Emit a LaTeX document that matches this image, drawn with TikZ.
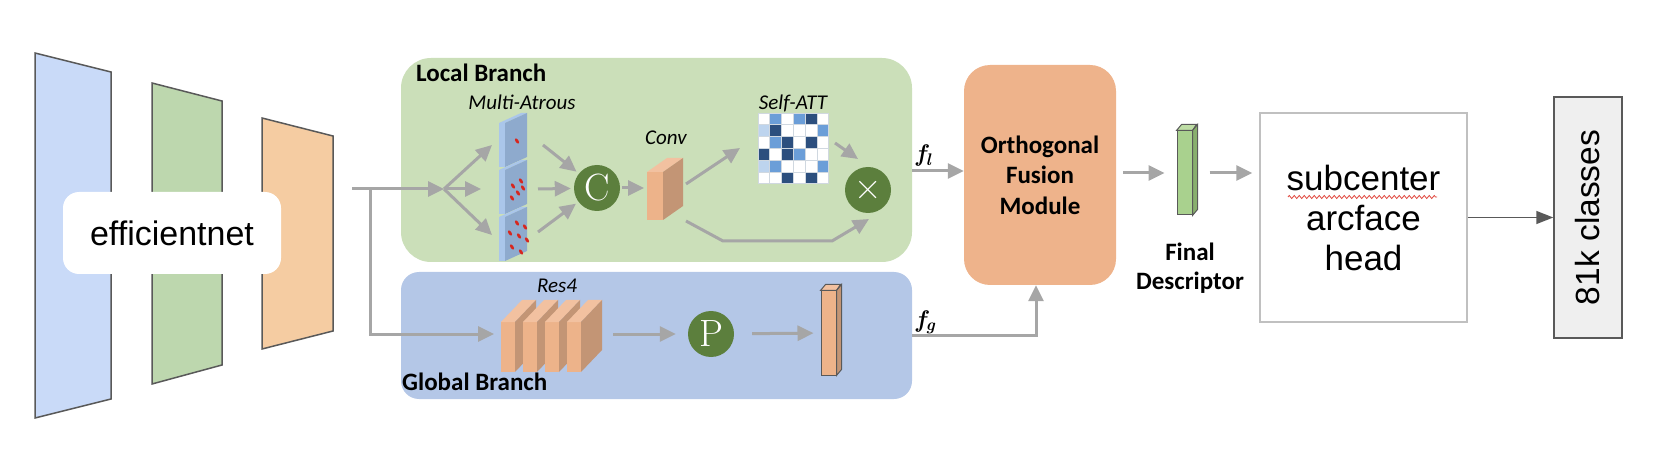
\documentclass[tikz,border=0pt]{standalone}
\usepackage{fontspec}
\usepackage{graphicx}
\newfontfamily\arial{Liberation Sans}
\newfontfamily\calib{Carlito}
\usetikzlibrary{arrows.meta,positioning,calc,decorations.pathmorphing}

\definecolor{bluetrap}{HTML}{C9DAF8}
\definecolor{greentrap}{HTML}{BDD7AE}
\definecolor{orangetrap}{HTML}{F5CCA2}
\definecolor{localgreen}{HTML}{CBDFB9}
\definecolor{globalblue}{HTML}{B4C7E7}
\definecolor{circgreen}{HTML}{5C7F3D}
\definecolor{salmon}{HTML}{EDB38A}
\definecolor{salmonside}{HTML}{C39575}
\definecolor{salmontop}{HTML}{F2C1A0}
\definecolor{atrousfront}{HTML}{AAC6EA}
\definecolor{atrousside}{HTML}{8EAACD}
\definecolor{dotred}{HTML}{D7261E}
\definecolor{attW}{HTML}{FFFFFF}
\definecolor{attL}{HTML}{BDD4EE}
\definecolor{attM}{HTML}{6B9ED8}
\definecolor{attD}{HTML}{2C4F7E}
\definecolor{cellgray}{HTML}{D0D8E0}
\definecolor{fusionorange}{HTML}{EEB38B}
\definecolor{descfront}{HTML}{A9D18E}
\definecolor{descside}{HTML}{89AF6E}
\definecolor{desctop}{HTML}{BEDDA5}
\definecolor{headgray}{HTML}{C0C0C0}
\definecolor{classgray}{HTML}{EFEFEF}
\definecolor{edgegray}{HTML}{595959}
\definecolor{arrowgray}{HTML}{A6A6A6}
\definecolor{spellred}{HTML}{E0463C}

\tikzset{
  flow/.style={draw=arrowgray, line width=3pt, -{Triangle[length=16pt,width=15pt]}},
  outflow/.style={draw=edgegray, line width=1.5pt, -{Triangle[length=17pt,width=13pt]}},
  opcirc/.style={circle, fill=circgreen, text=white, minimum size=46pt, inner sep=0pt, font=\fontsize{38}{38}\selectfont},
  layer/.style={fill=#1, draw=edgegray, line width=1.5pt},
  bar/.style={draw=edgegray, fill=#1, line width=1pt, minimum width=15pt, minimum height=84pt, inner sep=0pt},
  branchlbl/.style={font=\calib\bfseries\fontsize{25}{30}\selectfont, anchor=base west, inner sep=0pt},
  oplbl/.style={font=\calib\itshape\fontsize{21}{25}\selectfont, anchor=base, inner sep=0pt},
  featlbl/.style={font=\bfseries\itshape\fontsize{24}{26}\selectfont, anchor=base west, inner sep=0pt},
}

\begin{document}
\begin{tikzpicture}[x=1pt, y=-1pt]
\useasboundingbox (0,0) rectangle (1654,462);

% backbone
\filldraw[layer=bluetrap] (35,53) -- (111,72) -- (111,399) -- (35,418) -- cycle;
\filldraw[layer=greentrap] (152,83) -- (222,101) -- (222,365) -- (152,384) -- cycle;
\filldraw[layer=orangetrap] (262,118) -- (333,136) -- (333,331) -- (262,349) -- cycle;
\node[fill=white, rounded corners=16pt, minimum width=218pt, minimum height=82pt, font=\arial\fontsize{34}{40}\selectfont] (backbone) at (172,233) {efficientnet};

% the two branches
\node[fill=localgreen, rounded corners=30pt, minimum width=511pt, minimum height=204pt] (local) at (656.5,160) {};
\node[fill=globalblue, rounded corners=18pt, minimum width=511pt, minimum height=127pt] (global) at (656.5,335.5) {};
\node[branchlbl] at (416,82) {Local Branch};
\node[branchlbl] at (402,390) {Global Branch};

\coordinate (split) at (352,189);
\coordinate (tee) at (370,189);
\coordinate (fork) at (444,189);
\coordinate (res4in) at (494,334);
\draw[flow] (split) -- (fork);
\draw[flow] (tee) |- (res4in);

% multi-atrous
\foreach \t in {113,160,207} {
  \fill[atrousfront] (499,{\t+10}) -- (521,\t) -- (527,\t) -- (505,{\t+10}) -- (505,{\t+54}) -- (499,{\t+54}) -- cycle;
  \fill[atrousside] (505,{\t+10}) -- (527,\t) -- (527,{\t+44}) -- (505,{\t+54}) -- cycle;
}
\foreach \p in {(517,141),(521,181),(513,186),(523,188),(518,193),(512,198),(517,223),(525,227),(510,233),(519,236),(527,240),(512,247),(521,252)}
  \fill[dotred, rotate around={35:\p}] \p ellipse [x radius=1.5pt, y radius=3pt];
\node[oplbl] at (522,110) {Multi-Atrous};

\coordinate (at1in) at (492,145);
\coordinate (at2in) at (481,189);
\coordinate (at3in) at (492,235);
\coordinate (at1out) at (543,145);
\coordinate (at2out) at (538,189);
\coordinate (at3out) at (538,232);
\draw[flow] (fork) -- (at1in);
\draw[flow] (fork) -- (at2in);
\draw[flow] (fork) -- (at3in);

\node[opcirc] (concat) at (597,188) {C};
\draw[flow, shorten >=3pt] (at1out) -- (concat);
\draw[flow, shorten >=3pt] (at2out) -- (concat);
\draw[flow, shorten >=3pt] (at3out) -- (concat);

% conv
\fill[salmon] (647,172) rectangle (663,220);
\fill[salmontop] (647,172) -- (667,158) -- (683,158) -- (663,172) -- cycle;
\fill[salmonside] (663,172) -- (683,158) -- (683,206) -- (663,220) -- cycle;
\node[oplbl] at (666,145) {Conv};
\coordinate (convin) at (644,188);
\draw[flow, shorten <=2pt] (concat) -- (convin);

% self attention
\foreach \row [count=\r] in {{W,M,W,M,D,W},{L,D,W,W,W,M},{W,M,D,W,D,W},{D,W,D,M,W,W},{L,M,W,W,W,M},{W,W,D,W,D,W}}
  \foreach \c [count=\k] in \row
    \filldraw[fill=att\c, draw=cellgray, line width=0.8pt] ({746.2+11.8*\k},{101.2+11.8*\r}) rectangle ++(11.8,11.8);
\node[oplbl] at (793,110) {Self-ATT};

\node[opcirc] (mult) at (868,190) {×};
\coordinate (convout) at (686,184);
\coordinate (convlow) at (686,221);
\coordinate (attin) at (740,148);
\coordinate (attout) at (835,143);
\coordinate (multin) at (858,159);
\coordinate (multlow) at (869,219);
\draw[flow] (convout) -- (attin);
\draw[flow] (attout) -- (multin);
\draw[flow] (convlow) -- (723,241) -- (832,241) -- (multlow);

% res4 and pooling
\foreach \x in {501,523,545,567} {
  \fill[salmon] (\x,322) rectangle ({\x+14},372);
  \fill[salmontop] (\x,322) -- ({\x+21},300) -- ({\x+35},300) -- ({\x+14},322) -- cycle;
  \fill[salmonside] ({\x+14},322) -- ({\x+35},300) -- ({\x+35},350) -- ({\x+14},372) -- cycle;
}
\node[oplbl] at (557,292) {Res4};
\coordinate (res4out) at (613,334);
\node[opcirc] (pool) at (711,334) {P};
\draw[flow, shorten >=12pt] (res4out) -- (pool);

\node[bar=salmon] (gbar) at (828.5,333) {};
\filldraw[fill=salmontop, draw=edgegray, line width=1pt] (gbar.north west) -- ++(5,-6) -- ++(15,0) -- (gbar.north east) -- cycle;
\filldraw[fill=salmonside, draw=edgegray, line width=1pt] (gbar.north east) -- ++(5,-6) -- ($(gbar.south east)+(5,-6)$) -- (gbar.south east) -- cycle;
\draw[flow, shorten <=18pt, shorten >=7pt] (pool) -- (gbar);

% fusion
\node[fill=fusionorange, rounded corners=26pt, minimum width=152pt, minimum height=220pt, align=center, font=\calib\bfseries\fontsize{25}{30.5}\selectfont] (fusion) at (1040,175) {Orthogonal\\Fusion\\Module};
\coordinate (localout) at (912,171);
\coordinate (globalout) at (912,335);
\node[featlbl] (flocal) at (916,162) {f\textsubscript{l}};
\node[featlbl] (fglobal) at (916,327) {f\textsubscript{g}};
\draw[flow] (localout) -- (localout -| fusion.west);
\draw[flow] (globalout) -| ([xshift=-4pt]fusion.south);

% descriptor and head
\node[bar=descfront] (desc) at (1184.5,173) {};
\filldraw[fill=desctop, draw=edgegray, line width=1pt] (desc.north west) -- ++(5,-6) -- ++(15,0) -- (desc.north east) -- cycle;
\filldraw[fill=descside, draw=edgegray, line width=1pt] (desc.north east) -- ++(5,-6) -- ($(desc.south east)+(5,-6)$) -- (desc.south east) -- cycle;
\node[font=\calib\bfseries\fontsize{25}{29}\selectfont, align=center] (desclbl) at (1190,268) {Final\\Descriptor};
\draw[flow, shorten <=7pt, shorten >=12pt] (fusion.east |- desc) -- (desc.west);

\node[draw=headgray, fill=white, line width=1.5pt, minimum width=207pt, minimum height=209pt, align=center, font=\arial\fontsize{35}{40}\selectfont] (head) at (1363.5,217.5) {subcenter\\arcface\\head};
\draw[spellred, line width=0.8pt, decorate, decoration={zigzag, segment length=5pt, amplitude=1.5pt}] (1288,197) -- (1437,197);
\draw[flow, shorten <=17pt, shorten >=7pt] (desc.east) -- (desc.east -| head.west);

\node[draw=edgegray, fill=classgray, line width=1.5pt, minimum width=68pt, minimum height=241pt, inner sep=0pt, font=\arial\fontsize{33.5}{40}\selectfont] (classes) at (1588,217.5) {\rotatebox{90}{81k classes}};
\draw[outflow] (head) -- (classes);

\end{tikzpicture}
\end{document}
